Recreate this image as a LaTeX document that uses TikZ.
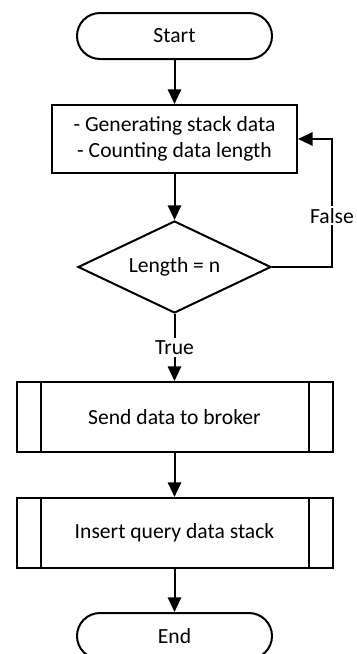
\documentclass[tikz,border=0pt]{standalone}
\usepackage{fontspec}
\setmainfont{Carlito}
\usetikzlibrary{shapes.geometric,arrows.meta}
\begin{document}
\begin{tikzpicture}[x=0.75pt,y=-0.75pt,
  every node/.style={font=\fontsize{16.2pt}{19pt}\selectfont},
  base/.style={draw=black,line width=1.5pt,inner sep=2pt},
  term/.style={base,rectangle,rounded corners=17.25pt,minimum width=146.25pt,minimum height=34.5pt},
  procbox/.style={base,rectangle,minimum width=183.75pt,minimum height=51pt,align=center},
  decision/.style={base,diamond,aspect=2.1,minimum width=144.75pt,minimum height=69pt,inner sep=0pt},
  predef/.style={base,rectangle,minimum width=237pt,minimum height=52.5pt,
    path picture={\draw[line width=1.5pt]
      ([xshift=18pt]path picture bounding box.north west) -- ([xshift=18pt]path picture bounding box.south west)
      ([xshift=-18pt]path picture bounding box.north east) -- ([xshift=-18pt]path picture bounding box.south east);}},
  arr/.style={line width=1.5pt,-{Triangle[length=11pt,width=10pt]}},
  lbl/.style={fill=white,inner sep=1.5pt}
]
\clip (0,0) rectangle (357,654);
\node[term] (start) at (174.5,36) {Start};
\node[procbox] (p1) at (174.5,139) {- Generating stack data\\- Counting data length};
\node[decision] (dec) at (174.5,267) {Length = n};
\node[predef] (p2) at (174.5,417) {Send data to broker};
\node[predef] (p3) at (174.5,533) {Insert query data stack};
\node[term] (end) at (174.5,636) {End};
\coordinate (fcorner) at (332,267);
\draw[arr] (start.south) -- (p1.north);
\draw[arr] (p1.south) -- (dec.north);
\draw[arr] (dec.east) -- (fcorner) |- node[lbl,pos=0.2]{False} (p1.east);
\draw[arr] (dec.south) -- node[lbl]{True} (p2.north);
\draw[arr] (p2.south) -- (p3.north);
\draw[arr] (p3.south) -- (end.north);
\end{tikzpicture}
\end{document}
